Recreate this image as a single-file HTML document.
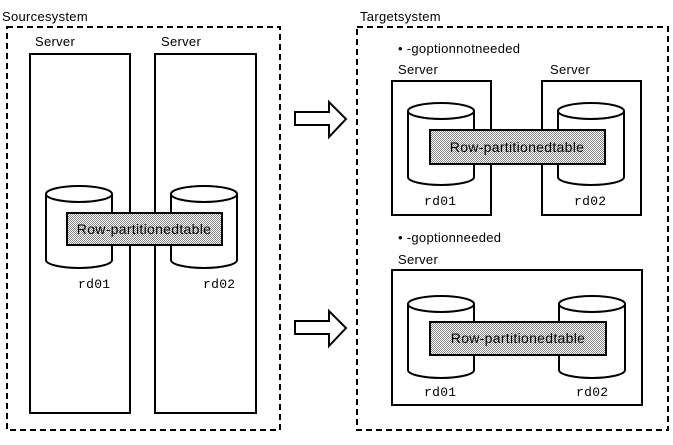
<!DOCTYPE html>
<html><head><style>
body{margin:0;background:#fff}
svg text{font-family:"Liberation Sans",sans-serif;font-size:13px;fill:#000;letter-spacing:0.3px}
.m{font-family:"Liberation Mono",monospace;font-size:13px}
.t{font-size:14px}
</style></head><body>
<svg width="673" height="440" viewBox="0 0 673 440" xmlns="http://www.w3.org/2000/svg">
<defs>
<pattern id="d" width="2" height="2" patternUnits="userSpaceOnUse"><rect width="2" height="2" fill="#fff"/><rect width="1" height="1" fill="#888"/><rect x="1" y="1" width="1" height="1" fill="#888"/></pattern>
<g id="cyl">
<path d="M0,8 L0,74 A33,8 0 0 0 66,74 L66,8" fill="#fff" stroke="#000" stroke-width="2"/>
<ellipse cx="33" cy="8" rx="33" ry="8" fill="#fff" stroke="#000" stroke-width="2"/>
</g>
</defs>
<g fill="none" stroke="#000" stroke-width="2" stroke-dasharray="6,4">
<rect x="7" y="27" width="273" height="403"/>
<rect x="357" y="27" width="311" height="403"/>
</g>
<text x="2" y="21">Sourcesystem</text>
<text x="360" y="21">Targetsystem</text>
<rect x="30" y="54" width="100" height="359" fill="none" stroke="#000" stroke-width="2"/>
<rect x="155" y="54" width="101" height="359" fill="none" stroke="#000" stroke-width="2"/>
<text x="35" y="46">Server</text><text x="161" y="46">Server</text>
<use href="#cyl" x="46" y="186"/><use href="#cyl" x="171" y="186"/>
<rect x="67" y="213" width="155" height="32" fill="url(#d)" stroke="#000" stroke-width="2"/>
<text class="t" x="144" y="234" text-anchor="middle" fill="#555">Row-partitionedtable</text>
<text class="m" x="78" y="288">rd01</text><text class="m" x="203" y="288">rd02</text>
<path d="M295,112 L329,112 L329,102 L346,119 L329,137 L329,125 L295,125 Z" fill="#fff" stroke="#000" stroke-width="2"/>
<path d="M295,321 L329,321 L329,311 L346,328 L329,346 L329,334 L295,334 Z" fill="#fff" stroke="#000" stroke-width="2"/>
<text x="398" y="53">• -goptionnotneeded</text>
<text x="398" y="74">Server</text><text x="550" y="74">Server</text>
<rect x="392" y="81" width="99" height="134" fill="none" stroke="#000" stroke-width="2"/>
<rect x="542" y="81" width="99" height="134" fill="none" stroke="#000" stroke-width="2"/>
<use href="#cyl" x="408" y="103"/><use href="#cyl" x="558" y="103"/>
<rect x="430" y="130" width="175" height="34" fill="url(#d)" stroke="#000" stroke-width="2"/>
<text class="t" x="517" y="152" text-anchor="middle" fill="#555">Row-partitionedtable</text>
<text class="m" x="424" y="205">rd01</text><text class="m" x="574" y="205">rd02</text>
<text x="398" y="242">• -goptionneeded</text>
<text x="398" y="264">Server</text>
<rect x="392" y="270" width="250" height="135" fill="none" stroke="#000" stroke-width="2"/>
<use href="#cyl" x="408" y="296"/><use href="#cyl" x="559" y="296"/>
<rect x="430" y="322" width="176" height="33" fill="url(#d)" stroke="#000" stroke-width="2"/>
<text class="t" x="518" y="343" text-anchor="middle" fill="#555">Row-partitionedtable</text>
<text class="m" x="424" y="396">rd01</text><text class="m" x="576" y="396">rd02</text>
</svg>
</body></html>
